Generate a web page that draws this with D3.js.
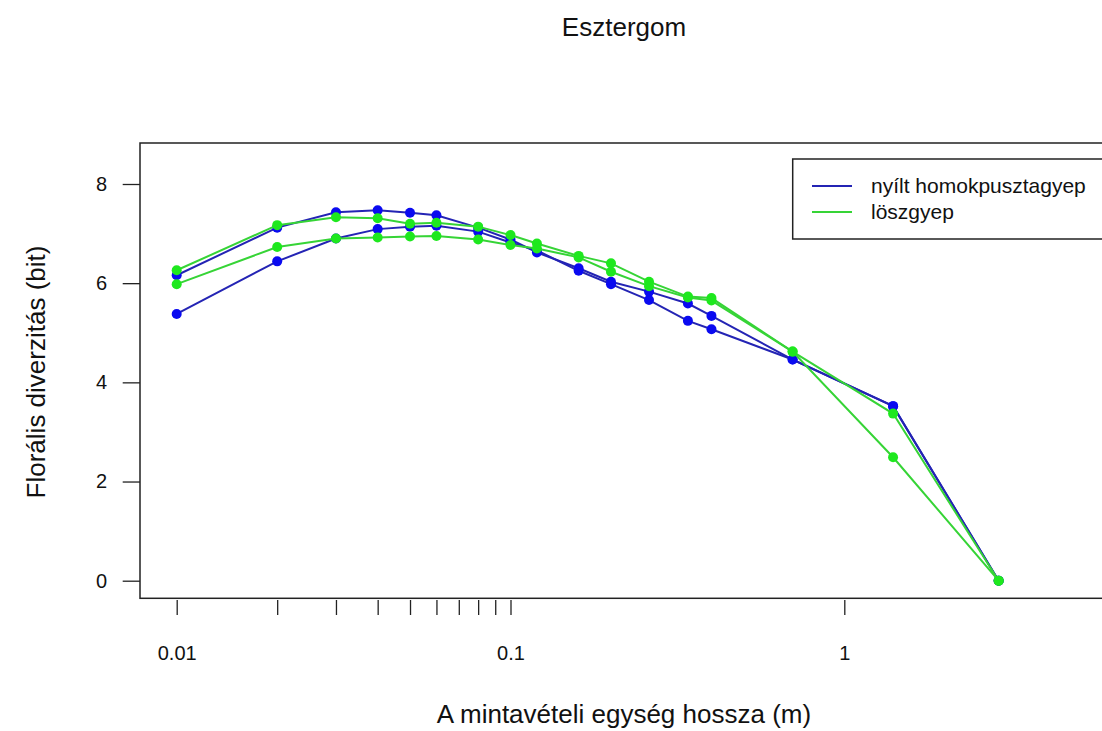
<!DOCTYPE html>
<html>
<head>
<meta charset="utf-8">
<script src="https://cdn.jsdelivr.net/npm/d3@7"></script>
<style>
  html, body { margin: 0; padding: 0; background: #fff; }
  svg { display: block; font-family: "Liberation Sans", Arial, sans-serif; }
</style>
</head>
<body>
<svg id="chart" width="1102" height="731"></svg>
<script>
// ---- data ----
const sizes   = [0.01, 0.02, 0.03, 0.04, 0.05, 0.06, 0.08, 0.1, 0.12, 0.16, 0.2, 0.26, 0.34, 0.4, 0.7, 1.4, 2.9];
const blue1   = [6.16, 7.12, 7.43, 7.47, 7.42, 7.37, 7.12, 6.88, 6.62, 6.30, 6.03, 5.83, 5.59, 5.34, 4.46, 3.52, 0];
const blue2   = [5.38, 6.44, 6.90, 7.09, 7.14, 7.16, 7.04, 6.82, 6.66, 6.25, 5.98, 5.66, 5.24, 5.07, 4.46, 3.52, 0];
const green1  = [6.26, 7.17, 7.33, 7.31, 7.20, 7.22, 7.14, 6.97, 6.80, 6.55, 6.40, 6.03, 5.73, 5.70, 4.62, 3.37, 0];
const green2  = [5.98, 6.73, 6.90, 6.92, 6.94, 6.95, 6.88, 6.77, 6.70, 6.52, 6.23, 5.94, 5.71, 5.65, 4.62, 2.49, 0];
const xTicks  = [0.01, 0.02, 0.03, 0.04, 0.05, 0.06, 0.07, 0.08, 0.09, 0.1, 1];
const xLabels = [0.01, 0.1, 1];
const yTicks  = [0, 2, 4, 6, 8];
const legendLabels = ["nyílt homokpusztagyep", "löszgyep"];
const titleText = "Esztergom";
const xTitle = "A mintavételi egység hossza (m)";
const yTitle = "Florális diverzitás (bit)";

// ---- layout ----
const svg = d3.select("#chart");
const box = { left: 140, top: 143, right: 1125, bottom: 598.3 };

const x = d3.scaleLog().domain([0.01, 1]).range([176.7, 844.3]);
const y = d3.scaleLinear().domain([0, 8]).range([580.7, 184]);

const blueLine = "#2424b4", blueDot = "#0a0af0";
const greenLine = "#36d436", greenDot = "#1ee81e";

// plot box
svg.append("rect")
  .attr("x", box.left).attr("y", box.top)
  .attr("width", box.right - box.left).attr("height", box.bottom - box.top)
  .attr("fill", "none").attr("stroke", "#222").attr("stroke-width", 1.5);

// x axis
const fmt = d => xLabels.includes(d) ? String(d) : "";
const gx = svg.append("g").attr("transform", "translate(0,600)")
  .call(d3.axisBottom(x).tickValues(xTicks).tickFormat(fmt).tickSize(15).tickSizeOuter(0).tickPadding(31));
gx.select(".domain").remove();
gx.selectAll(".tick line").attr("stroke", "#222").attr("stroke-width", 1.3);
gx.selectAll(".tick text").attr("font-size", 20).attr("fill", "#111")
  .attr("font-family", "'Liberation Sans', Arial, sans-serif");

// y axis
const gy = svg.append("g").attr("transform", `translate(${box.left},0)`)
  .call(d3.axisLeft(y).tickValues(yTicks).tickSize(17.3).tickSizeOuter(0).tickPadding(15.7));
gy.select(".domain").remove();
gy.selectAll(".tick line").attr("stroke", "#222").attr("stroke-width", 1.3);
gy.selectAll(".tick text").attr("font-size", 20).attr("fill", "#111")
  .attr("font-family", "'Liberation Sans', Arial, sans-serif");

// series
const series = [
  { vals: blue1, line: blueLine, dot: blueDot },
  { vals: blue2, line: blueLine, dot: blueDot },
  { vals: green1, line: greenLine, dot: greenDot },
  { vals: green2, line: greenLine, dot: greenDot }
];
const lineGen = d3.line().x(d => x(d[0])).y(d => y(d[1]));
series.forEach(s => {
  const pts = sizes.map((v, i) => [v, s.vals[i]]);
  svg.append("path").datum(pts).attr("d", lineGen)
    .attr("fill", "none").attr("stroke", s.line).attr("stroke-width", 2);
  svg.append("g").selectAll("circle").data(pts).join("circle")
    .attr("cx", d => x(d[0])).attr("cy", d => y(d[1])).attr("r", 5)
    .attr("fill", s.dot);
});

// legend
const lg = svg.append("g");
lg.append("rect").attr("x", 792.7).attr("y", 159).attr("width", 400).attr("height", 80)
  .attr("fill", "#fff").attr("stroke", "#222").attr("stroke-width", 1.5);
[blueLine, greenLine].forEach((c, i) => {
  const yy = 186 + i * 26;
  lg.append("line").attr("x1", 812).attr("x2", 852).attr("y1", yy).attr("y2", yy)
    .attr("stroke", c).attr("stroke-width", 2);
  lg.append("text").attr("x", 871).attr("y", yy + 7).attr("font-size", 21).attr("fill", "#111")
    .text(legendLabels[i]);
});

// titles
svg.append("text").attr("x", 624).attr("y", 36).attr("text-anchor", "middle")
  .attr("font-size", 26).attr("fill", "#111").text(titleText);
svg.append("text").attr("x", 624).attr("y", 723).attr("text-anchor", "middle")
  .attr("font-size", 26).attr("fill", "#111").text(xTitle);
svg.append("text").attr("transform", "translate(45,372) rotate(-90)").attr("text-anchor", "middle")
  .attr("font-size", 26).attr("fill", "#111").text(yTitle);
</script>
</body>
</html>
